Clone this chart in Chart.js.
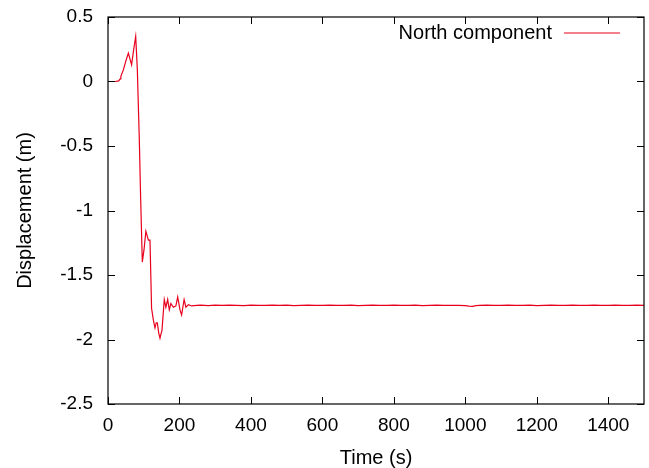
<!DOCTYPE html>
<html>
<head>
<meta charset="utf-8">
<script src="https://cdn.jsdelivr.net/npm/chart.js@4.4.0/dist/chart.umd.min.js"></script>
<style>
  html, body { margin: 0; padding: 0; background: #fff; }
  #wrap { width: 649px; height: 468px; }
</style>
</head>
<body>
<div id="wrap"><canvas id="myChart"></canvas></div>
<script>
// time (s) and north displacement (m)
const times = [0, 10, 20, 30, 34, 36, 43, 50, 57, 62, 66, 72, 77.5, 82, 87.6, 91.5, 96, 101, 106, 113, 117.5,
  122, 127, 131.5, 135, 138, 142, 145.5, 148, 151, 157.5, 162, 167, 171.5, 176, 183, 190, 195, 201.5, 206,
  213, 218, 225, 234, 248, 260, 280, 300, 320, 340, 360, 380, 400, 420, 440, 460, 480, 500, 520, 540, 560,
  580, 600, 620, 640, 660, 680, 700, 720, 740, 760, 780, 800, 820, 840, 860, 880, 900, 920, 940, 960, 980,
  1000, 1010, 1020, 1030, 1040, 1060, 1080, 1100, 1120, 1140, 1160, 1180, 1200, 1220, 1240, 1260, 1280,
  1300, 1320, 1340, 1360, 1380, 1400, 1420, 1440, 1460, 1480, 1500];
const northDisp = [0, 0, 0, 0.005, 0.02, 0.04, 0.09, 0.16, 0.22, 0.17, 0.13, 0.25, 0.35, 0.1, -0.45, -0.92,
  -1.40, -1.3, -1.16, -1.23, -1.23, -1.76, -1.85, -1.91, -1.87, -1.87, -1.95, -1.99, -1.96, -1.93, -1.69,
  -1.75, -1.69, -1.77, -1.72, -1.75, -1.74, -1.67, -1.77, -1.81, -1.69, -1.75, -1.73, -1.74, -1.735,
  -1.733, -1.737, -1.734, -1.736, -1.733, -1.735, -1.737, -1.734, -1.736, -1.735, -1.733, -1.736, -1.734,
  -1.737, -1.735, -1.733, -1.736, -1.735, -1.734, -1.736, -1.735, -1.733, -1.737, -1.735, -1.734, -1.736,
  -1.735, -1.733, -1.736, -1.735, -1.734, -1.737, -1.735, -1.734, -1.736, -1.735, -1.736,
  -1.738, -1.742, -1.743, -1.738, -1.736, -1.734, -1.736, -1.735, -1.733, -1.736, -1.735, -1.734, -1.737,
  -1.735, -1.733, -1.736, -1.735, -1.734, -1.736, -1.735, -1.733, -1.736, -1.735, -1.734, -1.736, -1.735,
  -1.734, -1.736];
const seriesLabel = 'North component';
const xTicks = [0, 200, 400, 600, 800, 1000, 1200, 1400];
const yTicks = [-2.5, -2, -1.5, -1, -0.5, 0, 0.5];

const points = times.map((t, i) => ({x: t, y: northDisp[i]}));
const FONT = 'Liberation Sans, Arial, Helvetica, sans-serif';
const lineColor = '#e8001c';

// gnuplot style box with inward ticks on all four sides, plus legend
const framePlugin = {
  id: 'frame',
  afterDraw(chart) {
    const ctx = chart.ctx;
    const a = chart.chartArea;
    const xs = chart.scales.x, ys = chart.scales.y;
    const len = 7;
    ctx.save();
    ctx.strokeStyle = '#000';
    ctx.lineWidth = 1.2;
    ctx.strokeRect(a.left, a.top, a.right - a.left, a.bottom - a.top);
    ctx.lineWidth = 1;
    ctx.beginPath();
    xTicks.forEach(v => {
      const px = Math.round(xs.getPixelForValue(v)) + 0.5;
      ctx.moveTo(px, a.bottom); ctx.lineTo(px, a.bottom - len);
      ctx.moveTo(px, a.top); ctx.lineTo(px, a.top + len);
    });
    yTicks.forEach(v => {
      const py = Math.round(ys.getPixelForValue(v)) + 0.5;
      ctx.moveTo(a.left, py); ctx.lineTo(a.left + len, py);
      ctx.moveTo(a.right, py); ctx.lineTo(a.right - len, py);
    });
    ctx.stroke();

    // legend: text then line sample
    const ly = 33;
    ctx.font = '20px ' + FONT;
    ctx.fillStyle = '#000';
    ctx.textAlign = 'right';
    ctx.textBaseline = 'middle';
    ctx.fillText(seriesLabel, 552, ly);
    ctx.strokeStyle = lineColor;
    ctx.lineWidth = 1.2;
    ctx.beginPath();
    ctx.moveTo(564, ly); ctx.lineTo(620, ly);
    ctx.stroke();
    ctx.restore();
  }
};

const ctx = document.getElementById('myChart').getContext('2d');
const myChart = new Chart(ctx, {
  type: 'line',
  data: {
    datasets: [{
      label: seriesLabel,
      data: points,
      borderColor: lineColor,
      borderWidth: 1.2,
      pointRadius: 0,
      tension: 0,
      fill: false
    }]
  },
  options: {
    responsive: true,
    maintainAspectRatio: false,
    animation: false,
    layout: { padding: { top: 17, right: 5, left: 0, bottom: 0 } },
    plugins: {
      legend: { display: false },
      tooltip: { enabled: false }
    },
    scales: {
      x: {
        type: 'linear',
        min: 0,
        max: 1500,
        afterBuildTicks: s => { s.ticks = xTicks.map(v => ({value: v})); },
        afterFit: s => { s.height = 64; s.paddingLeft = 0; s.paddingRight = 0; },
        grid: { display: false, drawTicks: false },
        border: { display: false },
        ticks: { color: '#000', font: { family: FONT, size: 19 }, padding: 10, maxRotation: 0,
          callback: v => String(v) },
        title: { display: true, text: 'Time (s)', color: '#000', font: { family: FONT, size: 20 }, padding: { top: 0, bottom: -2 } }
      },
      y: {
        min: -2.5,
        max: 0.5,
        afterBuildTicks: s => { s.ticks = yTicks.map(v => ({value: v})); },
        afterFit: s => { s.width = 108; s.paddingTop = 0; s.paddingBottom = 0; },
        grid: { display: false, drawTicks: false },
        border: { display: false },
        ticks: {
          color: '#000', font: { family: FONT, size: 19 }, padding: 15,
          callback: v => String(Number(v.toFixed(1)))
        },
        title: { display: true, text: 'Displacement (m)', color: '#000', font: { family: FONT, size: 20 }, padding: { top: 13, bottom: 0 } }
      }
    }
  },
  plugins: [framePlugin]
});
</script>
</body>
</html>
